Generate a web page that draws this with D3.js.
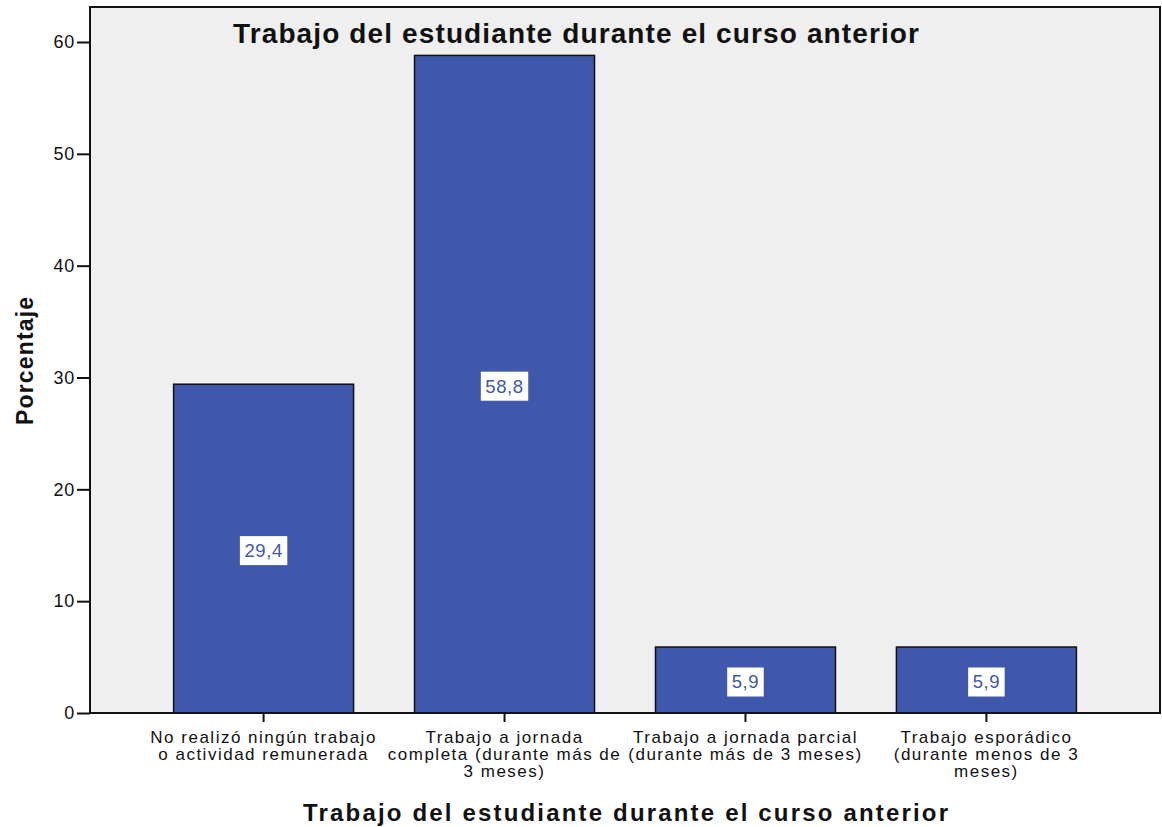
<!DOCTYPE html>
<html><head><meta charset="utf-8">
<script src="https://cdn.jsdelivr.net/npm/d3@7"></script>
<style>body{margin:0;background:#fff}svg{display:block}text{font-family:"Liberation Sans",Arial,sans-serif}</style>
</head><body>
<svg id="c" width="1162" height="827"></svg>
<script>
const categories = ["No realizó ningún trabajo o actividad remunerada","Trabajo a jornada completa (durante más de 3 meses)","Trabajo a jornada parcial (durante más de 3 meses)","Trabajo esporádico (durante menos de 3 meses)"];
const categoryLines = [
  ["No realizó ningún trabajo","o actividad remunerada"],
  ["Trabajo a jornada","completa (durante más de","3 meses)"],
  ["Trabajo a jornada parcial","(durante más de 3 meses)"],
  ["Trabajo esporádico","(durante menos de 3","meses)"]
];
const values = [29.4, 58.8, 5.9, 5.9];
const valueLabels = ["29,4","58,8","5,9","5,9"];
const yTicks = [0,10,20,30,40,50,60];
const title = "Trabajo del estudiante durante el curso anterior";
const xTitle = "Trabajo del estudiante durante el curso anterior";
const yTitle = "Porcentaje";

const svg = d3.select("#c");
const L=90, R=1160, T=7, B=713;
const y = d3.scaleLinear().domain([0,60]).range([B,42]);
const x = d3.scaleBand().domain(categories).range([L,R]).paddingInner(0.253).paddingOuter(0.347);

svg.append("rect").attr("x",L).attr("y",T).attr("width",R-L).attr("height",B-T).attr("fill","#efefef");

svg.selectAll("rect.bar").data(values).join("rect").attr("class","bar")
  .attr("x",(d,i)=>x(categories[i])).attr("width",x.bandwidth())
  .attr("y",d=>y(d)).attr("height",d=>B-y(d))
  .attr("fill","#3f58ab").attr("stroke","#111").attr("stroke-width",1.5);

// value labels
const lg = svg.selectAll("g.vl").data(values).join("g").attr("class","vl")
  .attr("transform",(d,i)=>`translate(${x(categories[i])+x.bandwidth()/2},${(y(d)+B)/2+2})`);
lg.each(function(d,i){
  const g=d3.select(this);
  const t=g.append("text").attr("text-anchor","middle").attr("dy","0.35em")
    .attr("font-size",18.5).attr("letter-spacing",0.6).attr("fill","#3f58ab").text(valueLabels[i]);
  const bb=t.node().getBBox();
  const w=bb.width+9;
  g.insert("rect","text").attr("x",-w/2).attr("y",-14.5).attr("width",w).attr("height",29).attr("fill","#fff");
});

// frame
svg.append("rect").attr("x",L).attr("y",T).attr("width",R-L).attr("height",B-T).attr("fill","none").attr("stroke","#111").attr("stroke-width",2);

// y axis
const ya = svg.append("g").attr("transform",`translate(${L},0)`)
  .call(d3.axisLeft(y).tickValues(yTicks).tickSize(13).tickPadding(2).tickFormat(d3.format("d")));
ya.select(".domain").remove();
ya.selectAll("line").attr("stroke","#111").attr("stroke-width",2);
ya.selectAll("text").attr("font-size",18).attr("letter-spacing",0.8).attr("fill","#111").attr("font-family","Liberation Sans, Arial, sans-serif");

// x axis
const xa = svg.append("g").attr("transform",`translate(0,${B})`)
  .call(d3.axisBottom(x).tickSize(9).tickFormat(""));
xa.select(".domain").remove();
xa.selectAll("line").attr("stroke","#111").attr("stroke-width",2);
xa.selectAll(".tick").each(function(d,i){
  const t=d3.select(this).append("text").attr("text-anchor","middle").attr("font-size",17).attr("letter-spacing",1.5).attr("fill","#111");
  categoryLines[i].forEach((ln,j)=>t.append("tspan").attr("x",0).attr("y",30+j*17).text(ln));
});

svg.append("text").attr("x",576).attr("y",43).attr("text-anchor","middle").attr("font-size",28).attr("font-weight","bold").attr("fill","#111")
  .attr("textLength",686).attr("lengthAdjust","spacing").text(title);
svg.append("text").attr("x",625.5).attr("y",821).attr("text-anchor","middle").attr("font-size",24).attr("font-weight","bold").attr("fill","#111")
  .attr("textLength",645).attr("lengthAdjust","spacing").text(xTitle);
svg.append("text").attr("transform","translate(33,361) rotate(-90)").attr("text-anchor","middle").attr("font-size",23).attr("font-weight","bold").attr("fill","#111")
  .attr("textLength",128).attr("lengthAdjust","spacing").text(yTitle);
</script>
</body></html>
